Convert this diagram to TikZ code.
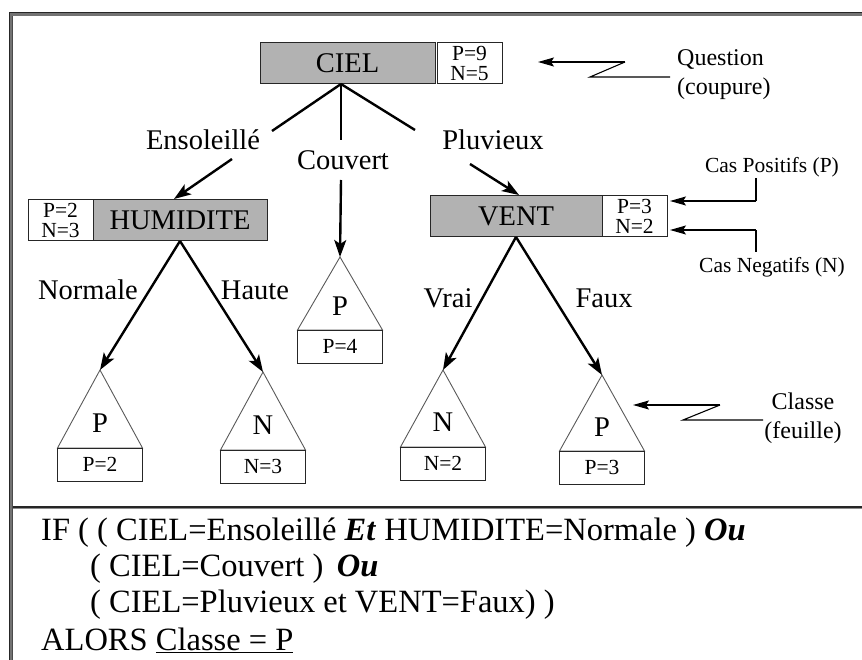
\documentclass[tikz,border=0pt]{standalone}
\usepackage{fontspec}
\setmainfont{Liberation Serif}
\usetikzlibrary{arrows.meta,calc}
\newcommand\leafnode[6]{%
  \coordinate (#1) at (#2,#3);
  \draw[tri] (#2,#3) -- (#2-42.5,#4) -- (#2+42.5,#4) -- cycle;
  \node[big] (#1l) at (#2,{#3+0.68*(#4-#3)}) {#5};
  \node[leafbox] (#1b) at (#2,#4+16.5) {#6};
}
\begin{document}
\begin{tikzpicture}[x=1pt,y=-1pt,
  big/.style={font=\fontsize{28.5}{30}\selectfont, inner sep=0},
  small/.style={font=\fontsize{21.5}{20}\selectfont, inner sep=0},
  note/.style={font=\fontsize{24}{29}\selectfont, inner sep=0, align=center},
  rule/.style={font=\fontsize{32.5}{36}\selectfont, anchor=base west, inner sep=0},
  attr/.style={draw=black!85, fill=black!30, line width=1pt, minimum height=41pt, big},
  count/.style={draw=black!85, fill=white, line width=1pt, minimum width=65pt, minimum height=41pt, small, align=center},
  leafbox/.style={draw=black!85, line width=1pt, minimum width=85pt, minimum height=33pt, small},
  tri/.style={draw=black!65, line width=0.9pt},
  edge/.style={line width=2.4pt},
  edgearrow/.style={edge, -{Stealth[length=17pt,width=12pt,inset=4pt]}},
  notearrow/.style={line width=1.1pt, -{Stealth[length=16pt,width=9pt,inset=3pt]}},
  noteline/.style={line width=1.1pt}
]
\useasboundingbox (0,0) rectangle (862,660);
% frame
\draw[line width=3pt, black!55] (11,660) -- (11,14.5) -- (862,14.5);
\draw[line width=1pt, black!85] (9.5,660) -- (9.5,12.8) -- (862,12.8);
\draw[line width=0.5pt, black!70] (12.7,660) -- (12.7,16);
\draw[line width=1.2pt, black!85] (12.7,507) -- (862,507);
\draw[line width=1pt, black!45] (12.7,508.6) -- (862,508.6);

% attribute boxes
\node[attr, minimum width=175pt] (ciel) at (347.5,63.5) {CIEL};
\node[count] (cielpn) at (469.5,63.5) {P=9\\N=5};
\node[attr, minimum width=174pt] (hum) at (180,220) {HUMIDITE};
\node[count] (humpn) at (60.5,220) {P=2\\N=3};
\node[attr, minimum width=172pt] (vent) at (516,216) {VENT};
\node[count] (ventpn) at (634.5,216) {P=3\\N=2};

% leaves
\leafnode{lA}{100}{370}{448}{P}{P=2}
\leafnode{lB}{263}{372}{450}{N}{N=3}
\leafnode{lC}{340}{257}{330}{P}{P=4}
\leafnode{lD}{443}{370}{447}{N}{N=2}
\leafnode{lE}{602}{375}{451}{P}{P=3}

% tree edges from CIEL
\coordinate (cb) at (341,84);
\coordinate (e1) at (272,131);
\coordinate (e1b) at (232,159);
\coordinate (hn) at (174,199);
\coordinate (c1) at (341,140);
\coordinate (c1b) at (341,180);
\coordinate (p1) at (415,130);
\coordinate (p1b) at (470,164);
\coordinate (vn) at (519,195);
\draw[edge] (cb) -- (e1);
\draw[edgearrow] (e1b) -- (hn);
\draw[edge] (cb) -- (c1);
\draw[edgearrow] (c1b) -- (lC);
\draw[edge] (cb) -- (p1);
\draw[edgearrow] (p1b) -- (vn);
\node[big] (lab1) at (203,140) {Ensoleillé};
\node[big] (lab2) at (343,160) {Couvert};
\node[big] (lab3) at (493,140) {Pluvieux};

% HUMIDITE children
\coordinate (hb) at (180,241);
\draw[edgearrow] (hb) -- (lA);
\draw[edgearrow] (hb) -- (lB);
\node[big] (lab4) at (88,290) {Normale};
\node[big] (lab5) at (255,290) {Haute};

% VENT children
\coordinate (vb) at (516,237);
\draw[edgearrow] (vb) -- (lD);
\draw[edgearrow] (vb) -- (lE);
\node[big] (lab6) at (448,298) {Vrai};
\node[big] (lab7) at (604,298) {Faux};

% annotation: Question
\node[note, align=left, anchor=north west] (q) at (677,49) {Question\\(coupure)};
\coordinate (q1) at (625,62);
\coordinate (q2) at (590,77);
\coordinate (q3) at (670,77);
\coordinate (qt) at (538,62);
\draw[noteline] (q3) -- (q2) -- (q1);
\draw[notearrow] (q1) -- (qt);

% annotation: Classe
\node[note] (cl) at (803,418) {Classe\\(feuille)};
\coordinate (k1) at (720,405);
\coordinate (k2) at (683,420);
\coordinate (k3) at (763,420);
\coordinate (kt) at (633,405);
\draw[noteline] (k3) -- (k2) -- (k1);
\draw[notearrow] (k1) -- (kt);

% annotation: Cas positifs / negatifs
\node[small] (cp) at (772,167) {Cas Positifs (P)};
\node[small] (cn) at (772,267) {Cas Negatifs (N)};
\coordinate (cp1) at (756,178);
\coordinate (cp2) at (756,201);
\coordinate (cpt) at (670,201);
\coordinate (cn1) at (756,252);
\coordinate (cn2) at (756,230);
\coordinate (cnt) at (670,230);
\draw[noteline] (cp1) -- (cp2);
\draw[notearrow] (cp2) -- (cpt);
\draw[noteline] (cn1) -- (cn2);
\draw[notearrow] (cn2) -- (cnt);

% rule text
\node[rule] (r1) at (41,540) {IF ( ( CIEL=Ensoleillé \textbf{\textit{Et}} HUMIDITE=Normale ) \textbf{\textit{Ou}}};
\node[rule] (r2) at (90,576) {( CIEL=Couvert )\,\ \textbf{\textit{Ou}}};
\node[rule] (r3) at (90,612) {( CIEL=Pluvieux et VENT=Faux) )};
\node[rule] (r4) at (41,650) {ALORS \underline{Classe = P}};
\end{tikzpicture}
\end{document}
